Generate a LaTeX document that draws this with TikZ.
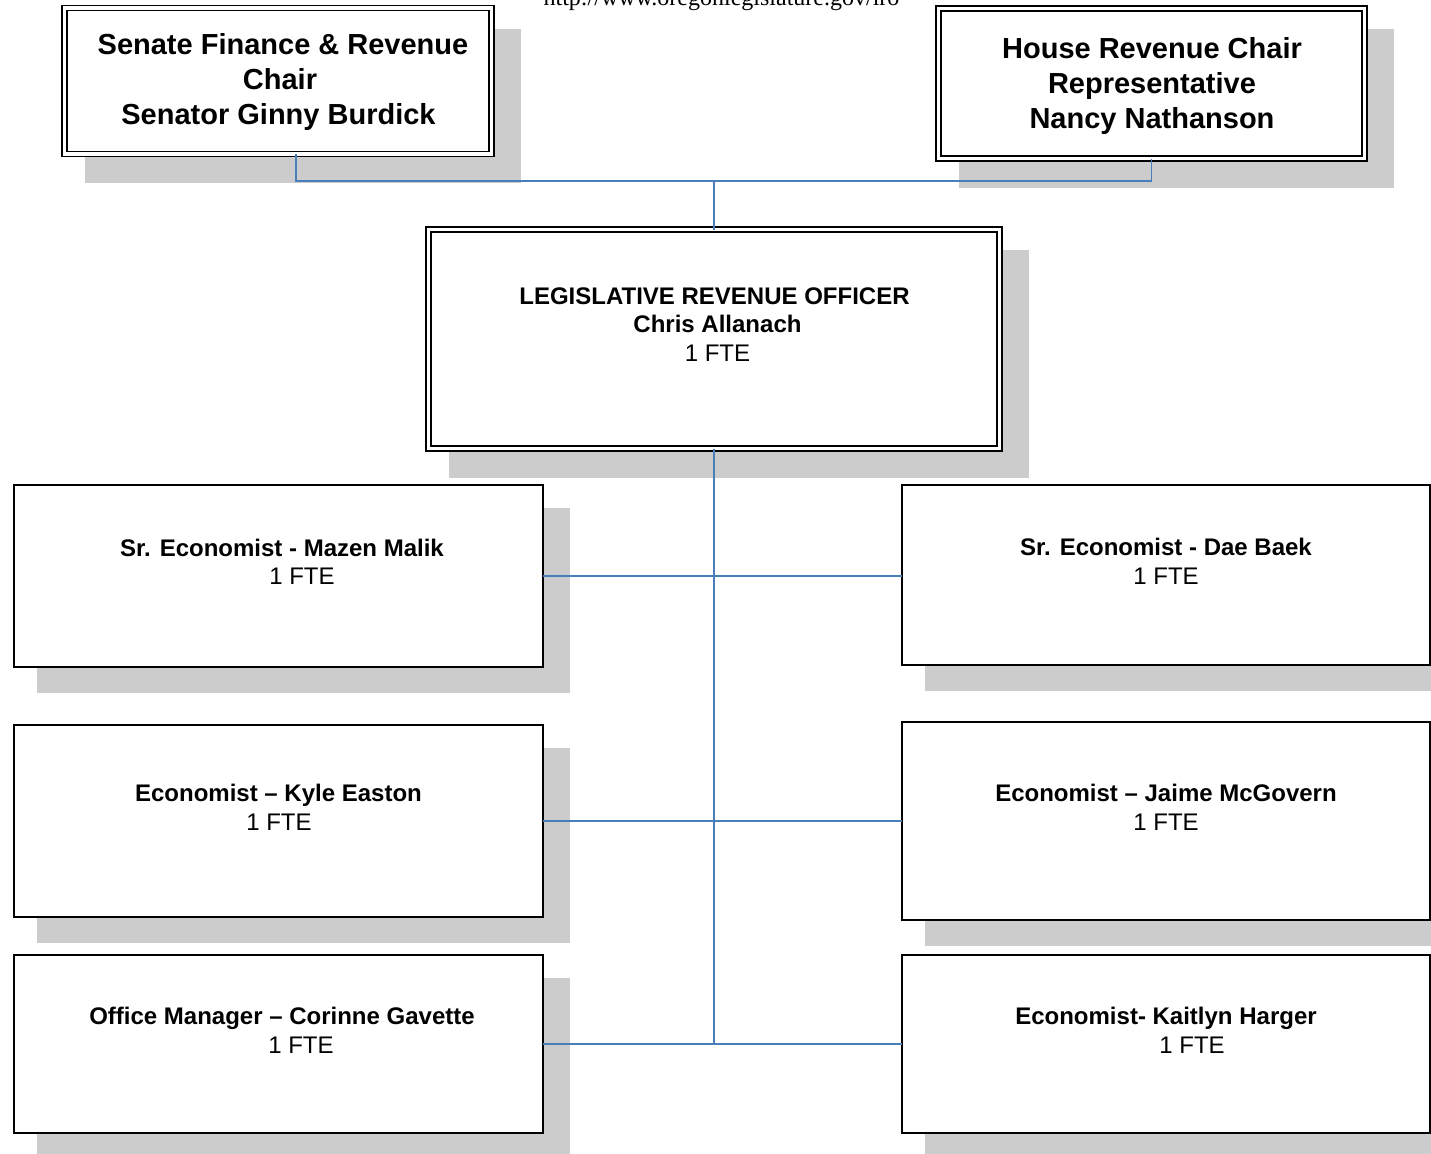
\documentclass[tikz,border=0pt]{standalone}
\usepackage{fontspec}
\newfontfamily\arialf{Liberation Sans}
\newfontfamily\timesf{Liberation Serif}
\usetikzlibrary{backgrounds}
\definecolor{connblue}{RGB}{74,126,187}
\definecolor{shadowgray}{RGB}{204,204,204}
\begin{document}
\begin{tikzpicture}[x=1pt,y=-1pt,
  shbox/.style={rectangle, fill=white, inner sep=0pt, outer sep=0pt},
  sbox/.style={shbox, draw=black, line width=1.6pt},
  dbox/.style={shbox, draw=black, double=white, line width=1.75pt, double distance=3.25pt},
  shadowfill/.style={fill=shadowgray},
  conn/.style={draw=connblue, line width=1.6pt},
  bigt/.style={font=\arialf\bfseries\fontsize{29}{35}\selectfont, anchor=base, inner sep=0pt},
  boldt/.style={font=\arialf\bfseries\fontsize{24}{28}\selectfont, anchor=base, inner sep=0pt},
  regt/.style={font=\arialf\fontsize{24}{28}\selectfont, anchor=base, inner sep=0pt},
  urlt/.style={font=\timesf\fontsize{24}{28}\selectfont, anchor=base, inner sep=0pt}
]
\useasboundingbox (0,0) rectangle (1431,1153);

% boxes
\node[dbox, minimum width=427pt, minimum height=146pt] (sen) at (278,81) {};
\node[dbox, minimum width=426pt, minimum height=150pt] (hou) at (1151.5,83.5) {};
\node[dbox, minimum width=571pt, minimum height=219pt] (lro) at (714,339) {};
\node[sbox, minimum width=529pt, minimum height=182pt] (el1) at (278.5,576) {};
\node[sbox, minimum width=528pt, minimum height=180pt] (er1) at (1166,575) {};
\node[sbox, minimum width=529pt, minimum height=192pt] (el2) at (278.5,821) {};
\node[sbox, minimum width=528pt, minimum height=198pt] (er2) at (1166,821) {};
\node[sbox, minimum width=529pt, minimum height=178pt] (el3) at (278.5,1044) {};
\node[sbox, minimum width=528pt, minimum height=178pt] (er3) at (1166,1044) {};

% shadows
\begin{scope}[on background layer]
  \fill[white] (0,0) rectangle (1431,1153);
  \foreach \b in {sen,hou,lro}{
    \fill[shadowfill] ([shift={(20.6,20.6)}]\b.north west) rectangle ([shift={(29.4,29.4)}]\b.south east);
  }
  \foreach \b in {el1,er1,el2,er2,el3,er3}{
    \fill[shadowfill] ([shift={(23.2,23.2)}]\b.north west) rectangle ([shift={(26.8,25.8)}]\b.south east);
  }
\end{scope}

% texts
\node[urlt] (url) at (721.5,6) {http://www.oregonlegislature.gov/lro};

\node[bigt] (sen1) at (283,55) {Senate Finance \& Revenue};
\node[bigt] (sen2) at (280,90) {Chair};
\node[bigt] (sen3) at (278.5,124.5) {Senator Ginny Burdick};

\node[bigt] (hou1) at (1152,58.5) {House Revenue Chair};
\node[bigt] (hou2) at (1152,93.5) {Representative};
\node[bigt] (hou3) at (1152,128.5) {Nancy Nathanson};

\node[boldt] (lro1) at (714.5,304) {LEGISLATIVE REVENUE OFFICER};
\node[boldt] (lro2) at (717.5,332.5) {Chris Allanach};
\node[regt] (lro3) at (717.5,361) {1 FTE};

\node[boldt] (el1a) at (282,556) {Sr. Economist - Mazen Malik};
\node[regt] (el1b) at (302,584.5) {1 FTE};
\node[boldt] (er1a) at (1166,555) {Sr. Economist - Dae Baek};
\node[regt] (er1b) at (1166,584) {1 FTE};

\node[boldt] (el2a) at (278.5,801) {Economist – Kyle Easton};
\node[regt] (el2b) at (279,830) {1 FTE};
\node[boldt] (er2a) at (1166,801) {Economist – Jaime McGovern};
\node[regt] (er2b) at (1166,830) {1 FTE};

\node[boldt] (el3a) at (282,1024) {Office Manager – Corinne Gavette};
\node[regt] (el3b) at (301,1053) {1 FTE};
\node[boldt] (er3a) at (1166,1024) {Economist- Kaitlyn Harger};
\node[regt] (er3b) at (1192,1053) {1 FTE};

% connectors
\coordinate (jt) at (714,181);
\draw[conn] ([xshift=18pt]sen.south) |- (jt) -| (hou.south);
\draw[conn] (jt) -- (lro.north);
\draw[conn] (lro.south) -- (lro.south |- el3.east);
\draw[conn] (el1.east) -- (el1.east -| er1.west);
\draw[conn] (el2.east) -- (el2.east -| er2.west);
\draw[conn] (el3.east) -- (el3.east -| er3.west);
\end{tikzpicture}
\end{document}
